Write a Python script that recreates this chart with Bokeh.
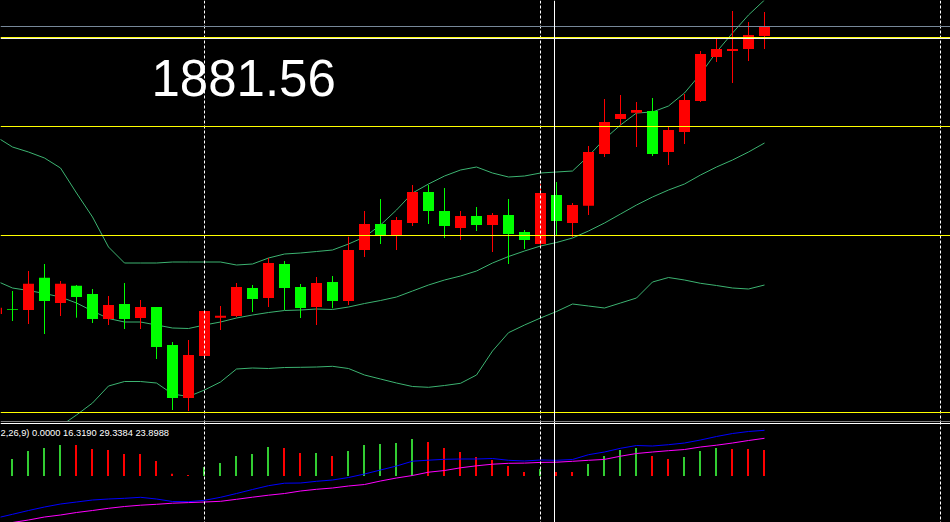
from bokeh.plotting import figure
from bokeh.models import Range1d, Span, Label, ColumnDataSource
from bokeh.transform import dodge
from bokeh.layouts import column
from bokeh.embed import file_html
from bokeh.resources import INLINE

# ---------------- data ----------------
bar_index = list(range(-1, 48))
opens = [1606.0, 1610.9, 1610.0, 1642.3, 1617.0, 1634.3, 1626.0, 1601.0, 1616.0, 1602.0,
         1613.0, 1575.0, 1522.0, 1564.0, 1602.3, 1604.0, 1632.0, 1622.0, 1656.0, 1633.0,
         1613.0, 1638.0, 1619.0, 1670.0, 1696.0, 1685.0, 1697.0, 1728.0, 1709.0, 1692.0,
         1704.0, 1695.0, 1705.0, 1688.0, 1676.0, 1725.0, 1697.0, 1714.3, 1766.0, 1801.0,
         1807.3, 1809.0, 1768.0, 1788.0, 1819.0, 1863.0, 1869.0, 1871.0, 1884.0]
highs = [1617.0, 1629.0, 1649.0, 1656.0, 1639.0, 1635.0, 1631.0, 1624.0, 1637.0, 1620.0,
         1613.0, 1578.0, 1580.0, 1609.0, 1614.0, 1637.0, 1635.0, 1662.0, 1659.0, 1636.0,
         1643.0, 1644.0, 1683.3, 1709.0, 1721.0, 1703.0, 1735.0, 1735.0, 1732.0, 1709.0,
         1713.0, 1707.0, 1721.0, 1690.0, 1736.0, 1738.0, 1717.0, 1774.0, 1821.0, 1825.0,
         1818.0, 1822.0, 1794.0, 1826.0, 1869.0, 1881.0, 1909.0, 1898.0, 1908.0]
lows = [1604.0, 1599.0, 1596.0, 1586.0, 1604.0, 1602.3, 1597.0, 1595.0, 1591.0, 1591.0,
        1561.0, 1510.0, 1509.0, 1561.0, 1590.0, 1603.0, 1608.0, 1613.0, 1610.0, 1602.0,
        1595.0, 1611.7, 1615.0, 1663.0, 1676.0, 1670.0, 1694.0, 1696.0, 1682.0, 1680.0,
        1689.0, 1668.0, 1656.0, 1671.0, 1674.0, 1685.0, 1683.0, 1705.0, 1763.0, 1795.0,
        1773.0, 1764.0, 1755.0, 1776.0, 1818.0, 1858.0, 1837.0, 1859.0, 1871.0]
closes = [1612.3, 1610.2, 1636.3, 1619.0, 1636.3, 1623.0, 1601.0, 1615.0, 1601.0, 1613.0,
          1573.0, 1522.0, 1565.0, 1609.0, 1604.3, 1633.0, 1621.0, 1657.0, 1632.0, 1612.0,
          1637.0, 1619.0, 1670.0, 1696.0, 1685.0, 1700.0, 1728.0, 1709.0, 1694.0, 1704.0,
          1695.0, 1705.0, 1686.0, 1680.0, 1727.0, 1699.0, 1715.0, 1768.0, 1798.0, 1806.0,
          1810.0, 1766.0, 1790.0, 1820.0, 1866.0, 1871.0, 1871.0, 1885.0, 1894.0]

band_upper = [1783, 1773, 1768, 1762, 1752, 1727, 1703, 1673, 1657, 1657,
              1657, 1658, 1658, 1658, 1658, 1655, 1656, 1662, 1666, 1667,
              1668.5, 1670, 1676, 1683, 1695, 1710, 1727, 1736, 1744, 1750,
              1753, 1747, 1743, 1744, 1747, 1748, 1749, 1764, 1781, 1795,
              1807, 1808, 1814, 1827, 1846, 1868, 1887, 1905, 1920]
band_middle = [1639, 1632, 1629.5, 1626.5, 1623, 1617, 1609, 1601.5, 1598, 1598,
               1595, 1592, 1591.5, 1595, 1598, 1602, 1605, 1607.5, 1609.5, 1610,
               1611, 1610.5, 1613, 1616.5, 1619.5, 1623, 1629, 1635, 1640, 1644,
               1649, 1657, 1663.5, 1669, 1674, 1677.5, 1682, 1689, 1697, 1706,
               1715, 1723, 1730, 1736, 1745, 1753, 1760, 1768, 1777]
band_lower = [1495, 1491, 1491, 1491, 1494, 1505, 1517, 1534, 1538.5, 1538.5,
              1537, 1526, 1523.5, 1530, 1538, 1551, 1552, 1551.5, 1552.5, 1552.7,
              1553, 1553.7, 1551.5, 1545, 1541, 1537, 1533.5, 1532.7, 1534.5, 1536.7,
              1545, 1569, 1587.3, 1595, 1602, 1608.5, 1616, 1614, 1612, 1617,
              1622, 1638, 1642.5, 1640, 1636.7, 1634.5, 1632, 1631, 1635]

hist_index = list(range(0, 48))
hist_values = [17, 25, 28, 31, 31, 27, 26, 22, 22, 15,
               2.3, 1, 9, 13, 20, 22, 29, 28, 23, 23,
               20, 25, 31, 32, 33, 37, 34, 28, 24, 19,
               16, 10, 4, 7, 4, 4, 12, 20, 26, 28,
               20, 17, 19, 25, 28, 27, 27, 26]
hist_colors = ["#32CD32"] * 4 + ["#FF0000"] * 8 + ["#32CD32"] * 5 + ["#FF0000"] * 2 + \
              ["#32CD32", "#FF0000"] + ["#32CD32"] * 5 + ["#FF0000"] * 7 + \
              ["#32CD32", "#FF0000", "#FF0000"] + ["#32CD32"] * 4 + ["#FF0000"] * 2 + \
              ["#32CD32"] * 3 + ["#FF0000"] * 3
macd_main = [-42, -38.3, -34.5, -31, -28, -26, -24, -23, -22.3, -21.3,
             -23, -25.5, -25.7, -24.3, -21.3, -17.5, -13.5, -9.7, -7.2, -7,
             -5.3, -4, -1.5, 2, 6, 10, 14.8, 15.8, 16.7, 17,
             17, 17.5, 15.7, 15, 16, 15.7, 16.5, 21.3, 24, 27.7,
             30.5, 30, 31.3, 33, 36, 39.5, 42.5, 44.5, 45.7]
macd_signal = [-49, -46.5, -44, -41, -39, -36.5, -34.5, -32.3, -30.5, -29.2,
               -28.3, -27.2, -26.6, -26, -25.3, -23.3, -21.2, -19.2, -17.5, -15,
               -13.3, -12, -10, -8.5, -5, -2, 0.5, 3.8, 5.5, 8.2,
               10.2, 11.8, 12.7, 12.9, 13.6, 13.8, 14.7, 15.7, 16.6, 19.8,
               22.5, 24, 25.3, 26.5, 29, 30.8, 33, 35.5, 37.7]

yellow_levels = [1882.5, 1793.5, 1684.5, 1507.5]
gray_level = 1893.5
crosshair_price = 1881.56
crosshair_bar = 33.875
separator_bars = [12, 33, 58]
panel_lines = [54.5, 52.5]
price_label = "1881.56"
macd_label = "2,26,9) 0.0000 16.3190 29.3384 23.8988"

# ---------------- figures ----------------
W = 950
x_rng = Range1d(-0.75, 58.625)

def base_fig(h, yr):
    f = figure(width=W, height=h, x_range=x_rng, y_range=yr,
               output_backend="svg", toolbar_location=None,
               x_axis_location=None, y_axis_location=None,
               min_border=0, min_border_left=0, min_border_right=0,
               min_border_top=0, min_border_bottom=0)
    f.background_fill_color = "black"
    f.border_fill_color = "black"
    f.outline_line_color = None
    f.grid.visible = False
    return f

main = base_fig(421, Range1d(1498.5, 1919.5))

for s in separator_bars:
    main.add_layout(Span(location=s, dimension="height", line_color="white",
                         line_width=1, line_dash="3 2"))

for band in (band_upper, band_middle, band_lower):
    main.line(bar_index, band, line_color="#3CB371", line_width=1)

colors = ["#FF0000" if c > o else "#00FF00" for o, c in zip(opens, closes)]
src = ColumnDataSource(dict(x=bar_index, o=opens, h=highs, l=lows, c=closes,
                            top=[max(o, c) for o, c in zip(opens, closes)],
                            bot=[min(o, c) for o, c in zip(opens, closes)],
                            color=colors))
main.segment(x0="x", y0="h", x1="x", y1="l", line_color="color", line_width=1, source=src)
main.vbar(x="x", width=0.6875, top="top", bottom="bot", fill_color="color",
          line_color=None, source=src)

for lv in yellow_levels:
    main.add_layout(Span(location=lv, dimension="width", line_color="#FFFF00", line_width=1))
main.add_layout(Span(location=gray_level, dimension="width", line_color="#778899", line_width=1))
main.add_layout(Span(location=crosshair_price, dimension="width", line_color="white", line_width=1))
main.add_layout(Span(location=crosshair_bar, dimension="height", line_color="white", line_width=1))

main.add_layout(Label(x=151, y=344, x_units="screen", y_units="screen", text=price_label,
                      text_color="white", text_font="Liberation Sans", text_font_size="51px",
                      text_baseline="alphabetic"))

sub = base_fig(101, Range1d(-46.5, 54.5))
for s in separator_bars:
    sub.add_layout(Span(location=s, dimension="height", line_color="white",
                        line_width=1, line_dash="3 2"))
sub.vbar(x=dodge("x", -0.03125, range=x_rng), width=0.125, top="v", bottom=0,
         fill_color="color", line_color=None,
         source=ColumnDataSource(dict(x=hist_index, v=hist_values, color=hist_colors)))
sub.line(bar_index, macd_main, line_color="#0000FF", line_width=1)
sub.line(bar_index, macd_signal, line_color="#FF00FF", line_width=1)
for lv in panel_lines:
    sub.add_layout(Span(location=lv, dimension="width", line_color="white", line_width=1))
sub.add_layout(Span(location=crosshair_bar, dimension="height", line_color="white", line_width=1))
sub.add_layout(Label(x=0, y=90, x_units="screen", y_units="screen", text=macd_label,
                     text_color="white", text_font="Liberation Sans", text_font_size="9.3px",
                     text_baseline="alphabetic"))

layout = column(main, sub, spacing=0)
layout.styles = {"background-color": "black"}

html = file_html(layout, INLINE, title="chart")
html = html.replace("<body>", '<body style="margin:0;background:#000000;">', 1)
open("out.html", "w").write(html)
